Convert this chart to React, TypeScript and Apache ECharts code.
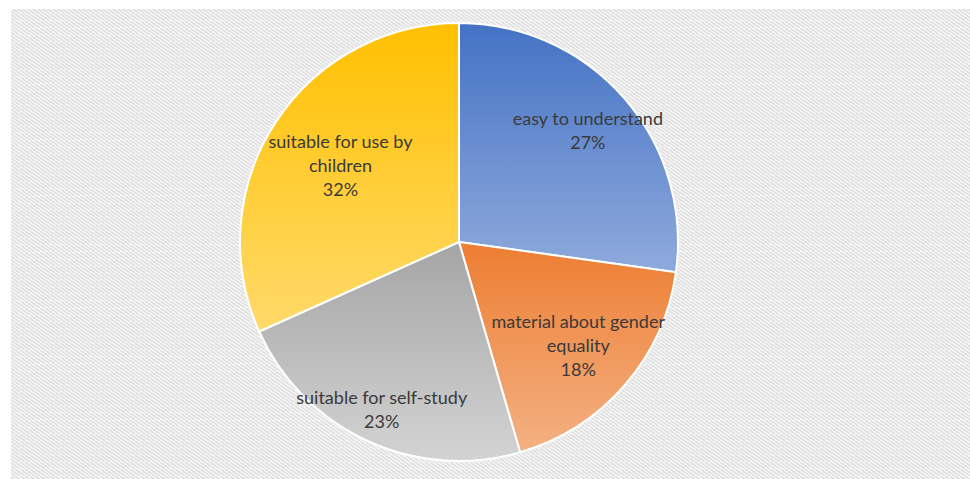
import React, { useEffect, useRef } from "react";
import * as echarts from "echarts";

const categories = [
  "easy to understand",
  "material about gender equality",
  "suitable for self-study",
  "suitable for use by children",
];
const values = [27.2, 18.3, 22.8, 31.7];
const labelNames = [
  "easy to understand",
  "material about gender\nequality",
  "suitable for self-study",
  "suitable for use by\nchildren",
];
const topColors = ["#4472C4", "#ED7D31", "#A5A5A5", "#FFC000"];
const bottomColors = ["#8FAADC", "#F4B183", "#D3D3D3", "#FFDA6A"];
// label distance from centre as a fraction of radius (style)
const labelRadiusFrac = [0.78, 0.72, 0.84, 0.645];

const CX = 459;
const CY = 242;
const R = 219;

const hatchSvg =
  "data:image/svg+xml;charset=utf-8," +
  encodeURIComponent(
    '<svg xmlns="http://www.w3.org/2000/svg" width="10" height="7">' +
      '<rect width="10" height="7" fill="#f7f7f7"/>' +
      '<path d="M-5,0 L5,7 M0,0 L10,7 M5,0 L15,7" stroke="#e0e0e0" stroke-width="1.6"/>' +
      "</svg>"
  );

export default function App() {
  const ref = useRef<HTMLDivElement>(null);
  useEffect(() => {
    if (!ref.current) return;
    const chart = echarts.init(ref.current, null, { renderer: "svg" });
    const total = values.reduce((a, b) => a + b, 0);
    const mids: number[] = [];
    let cum = 0;
    values.forEach((v) => {
      mids.push(((cum + v / 2) / total) * Math.PI * 2);
      cum += v;
    });
    chart.setOption({
      animation: false,
      backgroundColor: "#ffffff",
      graphic: [
        {
          type: "rect",
          silent: true,
          z: -10,
          shape: { x: 11, y: 9, width: 959, height: 470 },
          style: {
            fill: {
              image: hatchSvg,
              repeat: "repeat",
              imageWidth: 10,
              imageHeight: 7,
            },
          },
        },
      ],
      series: [
        {
          type: "pie",
          center: [CX, CY],
          radius: [0, R],
          startAngle: 90,
          clockwise: true,
          avoidLabelOverlap: false,
          itemStyle: { borderColor: "#ffffff", borderWidth: 2 },
          label: {
            show: true,
            position: "inside",
            color: "#3a3a3a",
            fontFamily: "Lato, 'Open Sans', sans-serif",
            fontSize: 18,
            lineHeight: 24,
            align: "center",
            formatter: (p: any) => labelNames[p.dataIndex] + "\n" + Math.round(p.percent) + "%",
          },
          labelLine: { show: false },
          labelLayout: (params: any) => {
            const i = params.dataIndex;
            const rr = labelRadiusFrac[i] * R;
            const tx = CX + rr * Math.sin(mids[i]);
            const ty = CY - rr * Math.cos(mids[i]);
            const rect = params.labelRect;
            return {
              dx: tx - (rect.x + rect.width / 2),
              dy: ty - (rect.y + rect.height / 2),
            };
          },
          emphasis: { disabled: true },
          data: categories.map((name, i) => ({
            name,
            value: values[i],
            itemStyle: {
              color: new echarts.graphic.LinearGradient(0, 0, 0, 1, [
                { offset: 0, color: topColors[i] },
                { offset: 1, color: bottomColors[i] },
              ]),
            },
          })),
        },
      ],
    });
    return () => chart.dispose();
  }, []);
  return (
    <div
      ref={ref}
      style={{ position: "fixed", left: 0, top: 0, width: 970, height: 479 }}
    />
  );
}
